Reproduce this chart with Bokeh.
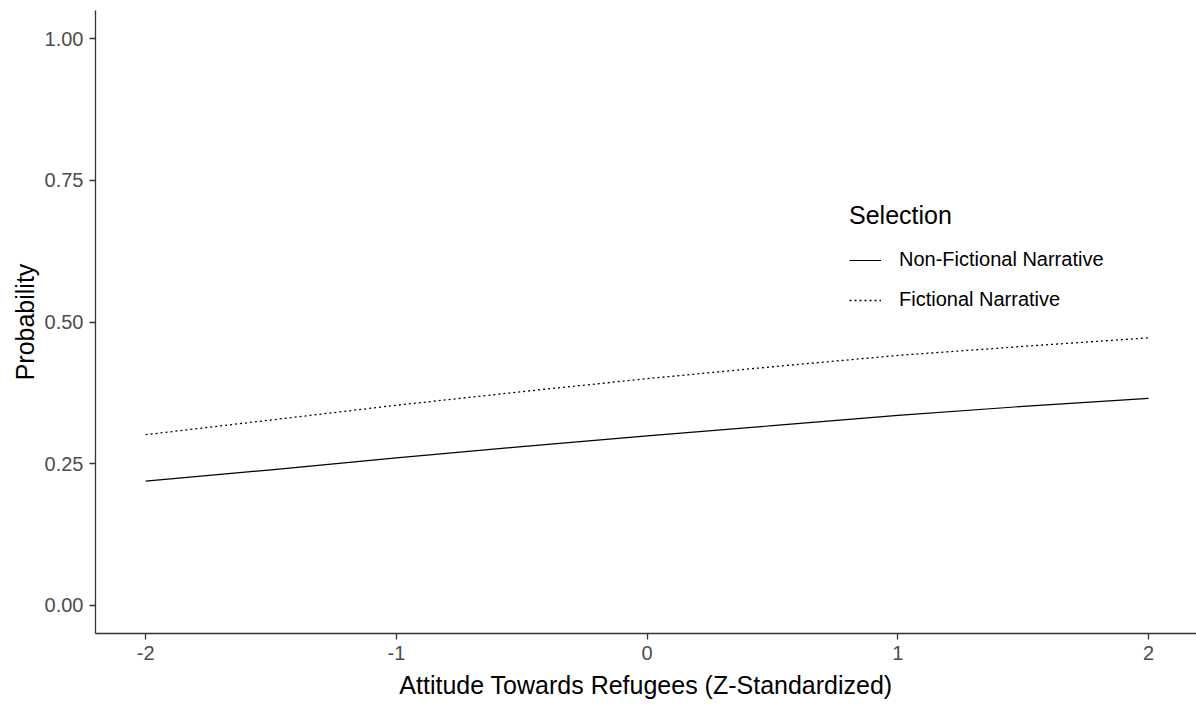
from bokeh.plotting import figure
from bokeh.models import Range1d, FixedTicker, Legend, LegendItem, ColumnDataSource
from bokeh.embed import file_html
from bokeh.resources import INLINE

# ---- data ----
attitude = [-2.0, -1.5, -1.0, -0.5, 0.0, 0.5, 1.0, 1.5, 2.0]
prob_nonfictional = [0.219, 0.239, 0.260, 0.280, 0.299, 0.317, 0.335, 0.351, 0.365]
prob_fictional = [0.301, 0.327, 0.353, 0.377, 0.400, 0.421, 0.441, 0.457, 0.472]
series_names = ["Non-Fictional Narrative", "Fictional Narrative"]
x_ticks = [-2, -1, 0, 1, 2]
x_tick_labels = ["-2", "-1", "0", "1", "2"]
y_ticks = [0.0, 0.25, 0.5, 0.75, 1.0]
y_tick_labels = ["0.00", "0.25", "0.50", "0.75", "1.00"]

FONT = "Liberation Sans"

p = figure(width=1196, height=706, output_backend="svg", toolbar_location=None,
           x_range=Range1d(-2.2, 2.191), y_range=Range1d(-0.05, 1.05),
           min_border_left=95, min_border_right=0, min_border_top=10, min_border_bottom=73)
p.outline_line_color = None
p.xgrid.grid_line_color = None
p.ygrid.grid_line_color = None
p.background_fill_color = "white"
p.border_fill_color = "white"

src = ColumnDataSource(dict(x=attitude, nf=prob_nonfictional, f=prob_fictional))
r1 = p.line("x", "nf", source=src, line_color="black", line_width=1.2)
r2 = p.line("x", "f", source=src, line_color="black", line_width=1.3, line_dash="2 3")

for ax in (p.xaxis[0], p.yaxis[0]):
    ax.axis_line_color = "#333333"
    ax.axis_line_width = 1.3
    ax.major_tick_line_color = "#333333"
    ax.major_tick_line_width = 1.3
    ax.major_tick_out = 6
    ax.major_tick_in = 0
    ax.minor_tick_out = 0
    ax.minor_tick_in = 0
    ax.major_label_text_font = FONT
    ax.major_label_text_font_size = "20px"
    ax.major_label_text_color = "#4D4D4D"
    ax.axis_label_text_font = FONT
    ax.axis_label_text_font_size = "25px"
    ax.axis_label_text_font_style = "normal"
    ax.axis_label_text_color = "black"

p.xaxis[0].ticker = FixedTicker(ticks=x_ticks)
p.xaxis[0].major_label_overrides = {t: l for t, l in zip(x_ticks, x_tick_labels)}
p.yaxis[0].ticker = FixedTicker(ticks=y_ticks)
p.yaxis[0].major_label_overrides = {t: l for t, l in zip(y_ticks, y_tick_labels)}
p.xaxis[0].axis_label = "Attitude Towards Refugees (Z-Standardized)"
p.yaxis[0].axis_label = "Probability"
p.xaxis[0].major_label_standoff = 6
p.xaxis[0].axis_label_standoff = 8
p.yaxis[0].major_label_standoff = 6
p.yaxis[0].axis_label_standoff = 3

legend = Legend(items=[LegendItem(label=series_names[0], renderers=[r1]),
                       LegendItem(label=series_names[1], renderers=[r2])],
                title="Selection", location=(754, 322))
legend.border_line_color = None
legend.background_fill_alpha = 0
legend.padding = 0
legend.margin = 0
legend.spacing = 17
legend.glyph_width = 32
legend.glyph_height = 20
legend.label_height = 20
legend.label_standoff = 18
legend.title_standoff = 18
legend.title_text_font = FONT
legend.title_text_font_size = "25px"
legend.title_text_font_style = "normal"
legend.title_text_color = "black"
legend.label_text_font = FONT
legend.label_text_font_size = "20px"
legend.label_text_color = "black"
p.add_layout(legend)

open("out.html", "w").write(file_html(p, INLINE))
